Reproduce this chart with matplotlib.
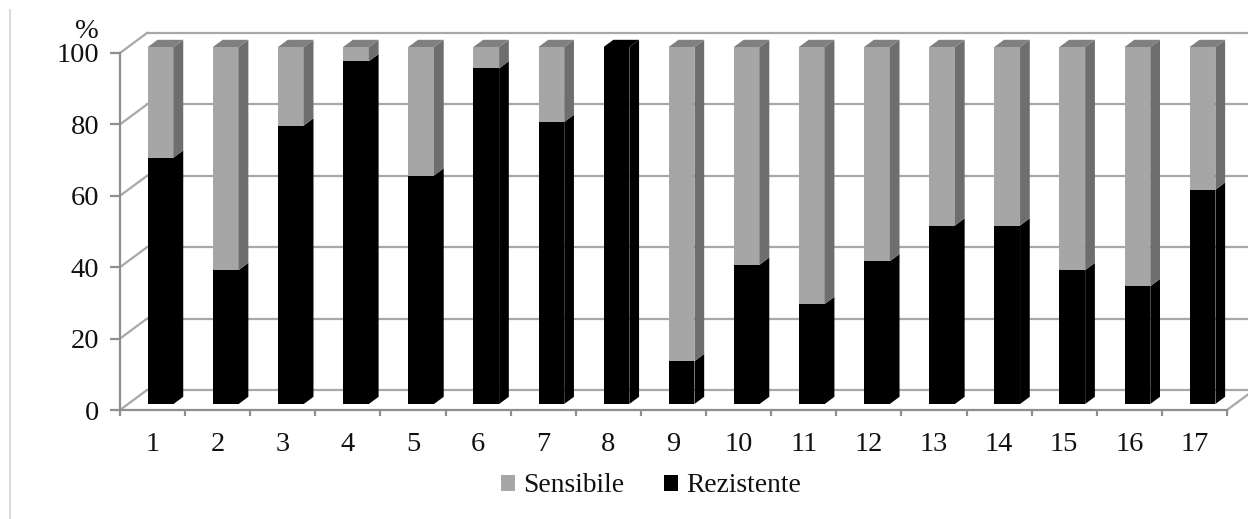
import matplotlib
matplotlib.use("Agg")
import matplotlib.pyplot as plt
from matplotlib.patches import Polygon, Patch
from matplotlib.lines import Line2D

# Share of resistant / sensitive strains (%) per sample
categories = [str(i) for i in range(1, 18)]
rezistente = [69, 37.5, 78, 96, 64, 94, 79, 100, 12, 39, 28, 40, 50, 50, 37.5, 33, 60]
sensibile = [31, 62.5, 22, 4, 36, 6, 21, 0, 88, 61, 72, 60, 50, 50, 62.5, 67, 40]
yticks = [0, 20, 40, 60, 80, 100]
series_names = ["Sensibile", "Rezistente"]

plt.rcParams["font.family"] = ["Liberation Serif", "DejaVu Serif"]
FS = 20.5

GRID = "#a8a8a8"
AXIS = "#8e8e8e"
TEXT = "#111111"
GRAY_FRONT, GRAY_SIDE, GRAY_TOP = "#a6a6a6", "#6e6e6e", "#808080"
BLACK = "#000000"

W, H, DPI = 1248, 519, 100
fig = plt.figure(figsize=(W / DPI, H / DPI), dpi=DPI)
ax = fig.add_axes([120 / W, 109 / H, 1107 / W, 357 / H])
n = len(categories)
ax.set_xlim(0.5, n + 0.5)
ax.set_ylim(0, 100)

# depth of the 3-D box (pixels -> data units)
inv = ax.transData.inverted()
p0 = inv.transform((0, 0))
p1 = inv.transform((27, 20))
ddx, ddy = p1[0] - p0[0], p1[1] - p0[1]

# back wall gridlines, side wall and floor edges
for v in yticks:
    ax.add_line(Line2D([0.5 + ddx, n + 0.5 + ddx + 2], [v + ddy, v + ddy],
                       color=GRID, lw=1.6, clip_on=False, zorder=1))
    ax.add_line(Line2D([0.5, 0.5 + ddx], [v, v + ddy],
                       color=GRID, lw=1.6, clip_on=False, zorder=1))
ax.add_line(Line2D([n + 0.5, n + 0.5 + ddx], [0, ddy],
                   color=GRID, lw=1.6, clip_on=False, zorder=1))

# bars: front face sits 30% into the depth, bar is 36% deep
f0, fd = 0.30, 0.36
bw = 0.395
xs = [i + 1 + f0 * ddx for i in range(n)]
bdx, bdy = fd * ddx, fd * ddy
y_off = f0 * ddy


def draw_segment(x, bottom, height, front, side, top=None):
    if height <= 0:
        return
    ax.bar(x, height, width=bw, bottom=bottom + y_off, color=front,
           linewidth=0, zorder=3, clip_on=False)
    xr = x + bw / 2
    xl = x - bw / 2
    yb = bottom + y_off
    yt = bottom + height + y_off
    ax.add_patch(Polygon([(xr, yb), (xr, yt), (xr + bdx, yt + bdy), (xr + bdx, yb + bdy)],
                         closed=True, facecolor=side, edgecolor="none", zorder=3,
                         clip_on=False))
    if top is not None:
        ax.add_patch(Polygon([(xl, yt), (xr, yt), (xr + bdx, yt + bdy), (xl + bdx, yt + bdy)],
                             closed=True, facecolor=top, edgecolor="none", zorder=3,
                             clip_on=False))


for x, r, s in zip(xs, rezistente, sensibile):
    draw_segment(x, 0, r, BLACK, BLACK, BLACK if s <= 0 else None)
    draw_segment(x, r, s, GRAY_FRONT, GRAY_SIDE, GRAY_TOP)

# front axes
for side in ("top", "right"):
    ax.spines[side].set_visible(False)
for side in ("left", "bottom"):
    ax.spines[side].set_color(AXIS)
    ax.spines[side].set_linewidth(1.6)
ax.patch.set_visible(False)

ax.set_yticks(yticks)
ax.set_yticklabels([str(v) for v in yticks])
ax.tick_params(axis="y", direction="out", length=7, width=1.6, color=AXIS,
               labelsize=FS, labelcolor=TEXT, pad=8)

ax.set_xticks(range(1, n + 1))
ax.set_xticklabels(categories)
ax.set_xticks([i + 0.5 for i in range(n + 1)], minor=True)
ax.tick_params(axis="x", which="major", length=0, labelsize=FS, labelcolor=TEXT, pad=16)
ax.tick_params(axis="x", which="minor", direction="out", length=4.5, width=1.6, color=AXIS)

fig.text(87 / W, 1 - 32 / H, "%", fontsize=FS, color=TEXT, ha="center", va="center")

# left border of the chart area
fig.add_artist(Line2D([10 / W, 10 / W], [0, 1 - 10 / H], color="#d4d4d4", lw=1.2,
                      transform=fig.transFigure))

handles = [Patch(facecolor=GRAY_FRONT, edgecolor="none"),
           Patch(facecolor=BLACK, edgecolor="none")]
fig.legend(handles, series_names, loc="center", bbox_to_anchor=(651 / W, 1 - 486 / H),
           ncol=2, frameon=False, fontsize=19.8, handlelength=0.5, handleheight=0.5,
           handletextpad=0.3, columnspacing=1.45, labelcolor=TEXT)

fig.savefig("out.png", dpi=DPI)
